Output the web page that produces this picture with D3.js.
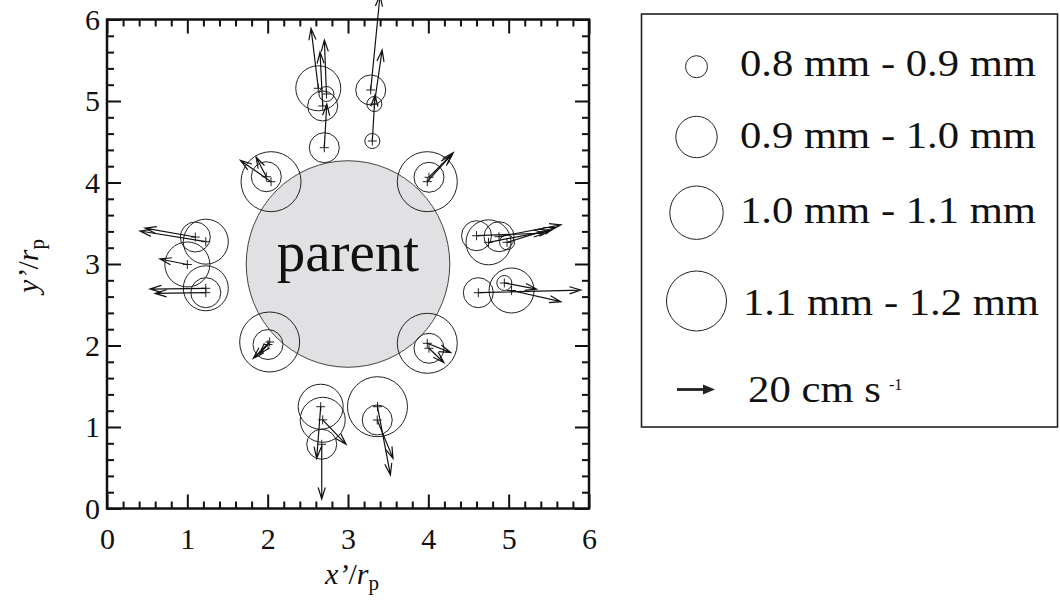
<!DOCTYPE html>
<html>
<head>
<meta charset="utf-8">
<script src="https://cdn.jsdelivr.net/npm/d3@7"></script>
<style>
  body { margin: 0; background: #fff; }
  text { font-family: "Liberation Serif", "Times New Roman", serif; fill: #111; }
</style>
</head>
<body>
<svg id="chart" width="1060" height="604"></svg>
<script>
// ---------------- data ----------------
const sizeClasses = ["0.8 mm - 0.9 mm", "0.9 mm - 1.0 mm", "1.0 mm - 1.1 mm", "1.1 mm - 1.2 mm"];
const xTicks = [0, 1, 2, 3, 4, 5, 6];
const yTicks = [0, 1, 2, 3, 4, 5, 6];
const parentCenter = [3, 3];
const parentRadius = 1.267;
const refSpeed = 20; // cm/s, legend arrow

// droplet positions (x'/rp, y'/rp), size class index, velocity (cm/s)
const dropX = [2.705, 2.630, 2.685, 2.732, 3.303, 3.283, 3.328,
               1.099, 1.230, 1.000, 1.230, 1.230,
               4.600, 4.749, 4.880, 4.980,
               4.622, 4.946, 5.036,
               2.660, 2.685, 2.673, 3.367, 3.364,
               2.042, 1.983, 3.987, 4.008, 2.025, 2.004, 3.987, 4.008];
const dropY = [4.427, 5.156, 4.939, 5.086, 4.509, 5.135, 4.963,
               3.331, 3.274, 2.994, 2.702, 2.648,
               3.347, 3.266, 3.335, 3.266,
               2.648, 2.767, 2.675,
               1.249, 1.088, 0.788, 1.249, 1.086,
               4.010, 4.071, 4.010, 4.064, 2.043, 2.012, 2.027, 1.966];
const dropClass = [1, 2, 1, 0, 0, 1, 0,
                   1, 2, 2, 2, 1,
                   1, 2, 1, 0,
                   1, 0, 2,
                   2, 2, 1, 3, 1,
                   3, 1, 3, 1, 3, 1, 3, 1];
const dropU = [1.3, -3.8, -1.4, -1.1, 1.4, 4.9, 4.1,
               -26.5, -34.6, -14.4, -29.4, -26.7,
               36.1, 32.4, 32.6, 25.3,
               54.0, 17.0, 26.0,
               -2.1, 12.3, 0.0, 6.8, 8.3,
               -16.1, -5.4, 12.7, 12.8, -8.6, -4.6, 12.3, 7.9];
const dropV = [23.0, 31.5, 28.4, 28.4, 24.2, 50.0, 28.4,
               4.7, 5.6, 2.9, -0.4, -0.4,
               1.4, 6.2, 6.2, 7.8,
               1.4, -3.2, -5.9,
               -27.2, -12.9, -28.8, -35.9, -20.2,
               11.2, 10.4, 14.1, 12.9, -8.6, -5.0, -4.9, -7.6];

// ---------------- scales ----------------
const svg = d3.select("#chart");
const x = d3.scaleLinear().domain([0, 6]).range([107, 589]);
const y = d3.scaleLinear().domain([0, 6]).range([508.5, 19.5]);
const vel = d3.scaleLinear().domain([0, 20]).range([0, 38]);
const plotR = d3.scaleOrdinal().domain(d3.range(4)).range([7.5, 15, 22.5, 30]);
const legendR = d3.scaleOrdinal().domain(d3.range(4)).range([11, 20.7, 26.7, 30]);

function arrowPath(x0, y0, x1, y1, len, ang) {
  const a = Math.atan2(y1 - y0, x1 - x0);
  const p1 = [x1 - len * Math.cos(a - ang), y1 - len * Math.sin(a - ang)];
  const p2 = [x1 - len * Math.cos(a + ang), y1 - len * Math.sin(a + ang)];
  return `M${x0},${y0}L${x1},${y1}M${p1[0]},${p1[1]}L${x1},${y1}L${p2[0]},${p2[1]}`;
}

// ---------------- parent ----------------
svg.append("ellipse")
  .attr("cx", x(parentCenter[0])).attr("cy", y(parentCenter[1]))
  .attr("rx", x(parentRadius) - x(0)).attr("ry", y(0) - y(parentRadius))
  .attr("fill", "#e1e1e3").attr("stroke", "#444").attr("stroke-width", 1);

svg.append("text")
  .attr("x", x(parentCenter[0])).attr("y", 271)
  .attr("text-anchor", "middle").attr("font-size", 57)
  .text("parent");

// ---------------- drops ----------------
const drops = dropX.map((d, i) => ({ x: d, y: dropY[i], c: dropClass[i], u: dropU[i], v: dropV[i] }));
const g = svg.append("g");
g.selectAll("circle.drop").data(drops).join("circle")
  .attr("class", "drop")
  .attr("cx", d => x(d.x)).attr("cy", d => y(d.y))
  .attr("r", d => plotR(d.c))
  .attr("fill", "none").attr("stroke", "#222").attr("stroke-width", 1);

g.selectAll("path.plus").data(drops).join("path")
  .attr("class", "plus")
  .attr("d", d => { const cx = x(d.x), cy = y(d.y); return `M${cx - 4.5},${cy}h9M${cx},${cy - 4.5}v9`; })
  .attr("stroke", "#222").attr("stroke-width", 1).attr("fill", "none");

g.selectAll("path.arrow").data(drops).join("path")
  .attr("class", "arrow")
  .attr("d", d => {
    const x0 = x(d.x), y0 = y(d.y);
    const x1 = x0 + vel(d.u), y1 = y0 - vel(d.v);
    return arrowPath(x0, y0, x1, y1, 12, 0.3);
  })
  .attr("stroke", "#111").attr("stroke-width", 1.2).attr("fill", "none");

// ---------------- axes ----------------
const minor = d3.range(0, 6.001, 0.2).map(v => +v.toFixed(1)).filter(v => Math.abs(v - Math.round(v)) > 1e-6);
const tickStyle = sel => { sel.select(".domain").remove(); sel.selectAll("line").attr("stroke", "#111").attr("stroke-width", 2); };

svg.append("g").attr("transform", `translate(0,${y(0)})`)
  .call(d3.axisBottom(x).tickValues(xTicks).tickSizeInner(-14).tickSizeOuter(0).tickPadding(19).tickFormat(d3.format("d")))
  .call(tickStyle)
  .call(s => s.selectAll("text").attr("font-size", 30).attr("fill", "#111").style("font-family", "Liberation Serif, serif"));
svg.append("g").attr("transform", `translate(0,${y(0)})`)
  .call(d3.axisBottom(x).tickValues(minor).tickSizeInner(-7).tickSizeOuter(0).tickFormat(""))
  .call(tickStyle);
svg.append("g").attr("transform", `translate(0,${y(6)})`)
  .call(d3.axisTop(x).tickValues(xTicks).tickSizeInner(-14).tickSizeOuter(0).tickFormat(""))
  .call(tickStyle);
svg.append("g").attr("transform", `translate(0,${y(6)})`)
  .call(d3.axisTop(x).tickValues(minor).tickSizeInner(-7).tickSizeOuter(0).tickFormat(""))
  .call(tickStyle);

svg.append("g").attr("transform", `translate(${x(0)},0)`)
  .call(d3.axisLeft(y).tickValues(yTicks).tickSizeInner(-14).tickSizeOuter(0).tickPadding(7).tickFormat(d3.format("d")))
  .call(tickStyle)
  .call(s => s.selectAll("text").attr("font-size", 30).attr("fill", "#111").style("font-family", "Liberation Serif, serif"));
svg.append("g").attr("transform", `translate(${x(0)},0)`)
  .call(d3.axisLeft(y).tickValues(minor).tickSizeInner(-7).tickSizeOuter(0).tickFormat(""))
  .call(tickStyle);
svg.append("g").attr("transform", `translate(${x(6)},0)`)
  .call(d3.axisRight(y).tickValues(yTicks).tickSizeInner(-14).tickSizeOuter(0).tickFormat(""))
  .call(tickStyle);
svg.append("g").attr("transform", `translate(${x(6)},0)`)
  .call(d3.axisRight(y).tickValues(minor).tickSizeInner(-7).tickSizeOuter(0).tickFormat(""))
  .call(tickStyle);

// frame
svg.append("rect")
  .attr("x", x(0)).attr("y", y(6)).attr("width", x(6) - x(0)).attr("height", y(0) - y(6))
  .attr("fill", "none").attr("stroke", "#111").attr("stroke-width", 2.5);

// axis titles
const xt = svg.append("text").attr("x", 352).attr("y", 584).attr("text-anchor", "middle").attr("font-size", 30);
xt.append("tspan").attr("font-style", "italic").text("x’");
xt.append("tspan").text("/");
xt.append("tspan").attr("font-style", "italic").text("r");
xt.append("tspan").attr("font-size", 21).attr("dy", 6).text("p");

const yt = svg.append("text").attr("transform", "translate(38,266) rotate(-90)").attr("text-anchor", "middle").attr("font-size", 30);
yt.append("tspan").attr("font-style", "italic").text("y’");
yt.append("tspan").text("/");
yt.append("tspan").attr("font-style", "italic").text("r");
yt.append("tspan").attr("font-size", 21).attr("dy", 6).text("p");

// ---------------- legend ----------------
const lg = svg.append("g");
lg.append("rect").attr("x", 641.5).attr("y", 14).attr("width", 416).attr("height", 413)
  .attr("fill", "#fff").attr("stroke", "#222").attr("stroke-width", 1.6);
const legCy = [66.7, 137, 212.7, 301];
const legTy = [76, 148.3, 222.7, 315];
const legTx = [740, 740, 740, 743];
lg.selectAll("circle").data(sizeClasses).join("circle")
  .attr("cx", 696.5).attr("cy", (d, i) => legCy[i]).attr("r", (d, i) => legendR(i))
  .attr("fill", "none").attr("stroke", "#222").attr("stroke-width", 1);
lg.selectAll("text.lab").data(sizeClasses).join("text")
  .attr("class", "lab")
  .attr("x", (d, i) => legTx[i]).attr("y", (d, i) => legTy[i])
  .attr("font-size", 37)
  .attr("textLength", 296).attr("lengthAdjust", "spacingAndGlyphs")
  .text(d => d);
// reference arrow
const ax0 = 677, ay = 389.5, ax1 = ax0 + vel(refSpeed);
lg.append("line").attr("x1", ax0).attr("y1", ay).attr("x2", ax1 - 8).attr("y2", ay)
  .attr("stroke", "#222").attr("stroke-width", 2.8);
lg.append("path").attr("d", `M${ax1},${ay}L${ax1 - 12},${ay - 5}L${ax1 - 12},${ay + 5}Z`).attr("fill", "#222");
lg.append("text").attr("x", 748).attr("y", 401.7).attr("font-size", 37)
  .attr("textLength", 133).attr("lengthAdjust", "spacingAndGlyphs")
  .text(refSpeed + " cm s");
lg.append("text").attr("x", 889).attr("y", 390).attr("font-size", 16).text("-1");
</script>
</body>
</html>
